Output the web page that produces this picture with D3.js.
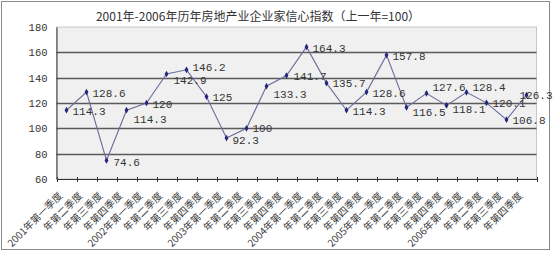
<!DOCTYPE html>
<html><head><meta charset="utf-8">
<script src="https://cdn.jsdelivr.net/npm/d3@7"></script>
<style>
html,body{margin:0;padding:0;background:#fff;}
svg{display:block;}
</style></head>
<body>
<svg id="c" width="554" height="254"></svg>
<script>
const title = "2001年-2006年历年房地产业企业家信心指数（上一年=100）";
const categories = [
  "2001年第一季度","年第二季度","年第三季度","年第四季度",
  "2002年第一季度","年第二季度","年第三季度","年第四季度",
  "2003年第一季度","年第二季度","年第三季度","年第四季度",
  "2004年第一季度","年第二季度","年第三季度","年第四季度",
  "2005年第一季度","年第二季度","年第三季度","年第四季度",
  "2006年第一季度","年第二季度","年第三季度","年第四季度"
];
const values = [114.3,128.6,74.6,114.3,120,142.9,146.2,125,92.3,100,133.3,141.7,164.3,135.7,114.3,128.6,157.8,116.5,127.6,118.1,128.4,120.1,106.8,126.3];
const valueLabels = ["114.3","128.6","74.6","114.3","120","142.9","146.2","125","92.3","100","133.3","141.7","164.3","135.7","114.3","128.6","157.8","116.5","127.6","118.1","128.4","120.1","106.8","126.3"];
const yTicks = [60,80,100,120,140,160,180];

// layout (label nudges in px, not data)
const labelDx = [6,6,7,7,6,7,6,6,6,6,7,7,6,6,6,6,6,6,6,6,6,6,6,-7];
const labelDy = [1,1,2,9,1,6,-3,0,2,0,8,1,1,0,1,1,1,5,-6,4,-5,0,0,0];

const svg = d3.select("#c");
const L = 56.5, R = 536.5, T = 27, B = 179;

svg.append("rect").attr("x",1.5).attr("y",1.5).attr("width",548).attr("height",248)
  .attr("fill","#fff").attr("stroke","#8a8a8a").attr("stroke-width",1);

const x = d3.scaleBand().domain(d3.range(categories.length)).range([L,R]);
const y = d3.scaleLinear().domain([60,180]).range([B,T]);

svg.append("rect").attr("x",L).attr("y",T).attr("width",R-L).attr("height",B-T)
  .attr("fill","#f0f0f0").attr("stroke","#c8c8c8").attr("stroke-width",1);

// gridlines
svg.append("g").selectAll("line").data(yTicks.filter(t=>t>60 && t<180)).join("line")
  .attr("x1",L).attr("x2",R).attr("y1",d=>Math.round(y(d))+0.5).attr("y2",d=>Math.round(y(d))+0.5)
  .attr("stroke","#5a5a5a").attr("stroke-width",1.3);

// y axis
const ya = svg.append("g").attr("transform",`translate(${L},0)`)
  .call(d3.axisLeft(y).tickValues(yTicks).tickSize(0).tickPadding(9));
ya.select(".domain").attr("stroke","#333");
ya.selectAll("text").attr("font-family","'Liberation Mono','DejaVu Sans Mono',monospace")
  .attr("font-size","10.5px").attr("fill","#333");

// x axis
const xa = svg.append("g").attr("transform",`translate(0,${B})`)
  .call(d3.axisBottom(x).tickSize(0).tickFormat(""));
xa.select(".domain").attr("stroke","#333");
svg.append("g").selectAll("line").data(d3.range(categories.length+1)).join("line")
  .attr("x1",i=>Math.round(L + i*x.step())+0.5).attr("x2",i=>Math.round(L + i*x.step())+0.5)
  .attr("y1",B-2).attr("y2",B+3).attr("stroke","#333");

svg.append("g").selectAll("text").data(categories).join("text")
  .attr("transform",(d,i)=>`translate(${x(i)+x.bandwidth()/2-6},${B+15}) rotate(-45)`)
  .attr("text-anchor","end").attr("dy","0.35em")
  .attr("font-family","'Noto Sans CJK SC',sans-serif").attr("font-size","10px")
  .attr("fill","#3a3a3a").text(d=>d);

// line
const cx = i => x(i)+x.bandwidth()/2;
svg.append("path").datum(values)
  .attr("d", d3.line().x((d,i)=>cx(i)).y(d=>y(d)))
  .attr("fill","none").attr("stroke","#6c6c9c").attr("stroke-width",1.1);

svg.append("g").selectAll("path").data(values).join("path")
  .attr("d", d3.symbol(d3.symbolDiamond, 13))
  .attr("transform",(d,i)=>`translate(${cx(i)},${y(d)})`)
  .attr("fill","#26267a");

svg.append("g").selectAll("text").data(values).join("text")
  .attr("x",(d,i)=>cx(i)+labelDx[i]).attr("y",(d,i)=>y(d)+labelDy[i])
  .attr("dy","0.35em")
  .attr("font-family","'Liberation Mono','DejaVu Sans Mono',monospace")
  .attr("font-size","11px").attr("fill","#333")
  .text((d,i)=>valueLabels[i]);

svg.append("text").attr("x",258).attr("y",21).attr("text-anchor","middle")
  .attr("font-family","'Noto Sans CJK SC',sans-serif").attr("font-size","12px")
  .attr("fill","#333").text(title);
</script>
</body></html>
